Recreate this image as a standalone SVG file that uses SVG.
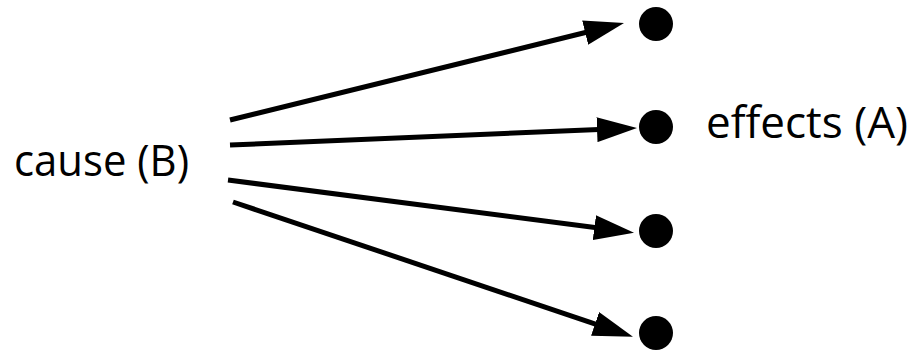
<svg xmlns="http://www.w3.org/2000/svg" width="909" height="351" viewBox="0 0 909 351">
<style>
.lbl{font-family:"Open Sans","Liberation Sans",sans-serif;font-size:44px;fill:#000}
.dot{fill:#000}
.conn{stroke:#000;stroke-width:5;fill:none}
</style>
<defs>
<marker id="ah" markerUnits="userSpaceOnUse" markerWidth="40" markerHeight="25" refX="20" refY="12.5" orient="auto" viewBox="0 0 40 25">
<path d="M0,0 L40,12.5 L0,25 Z" fill="#000"/>
</marker>
</defs>
<rect width="909" height="351" fill="#fff"/>
<g id="cause"><text class="lbl" x="14" y="176" textLength="175" lengthAdjust="spacingAndGlyphs">cause (B)</text></g>
<g id="effect1"><circle class="dot" cx="656" cy="24" r="17"/></g>
<g id="effect2"><circle class="dot" cx="656" cy="127" r="17"/><text class="lbl" x="706" y="138" font-size="43">effects (A)</text></g>
<g id="effect3"><circle class="dot" cx="656" cy="231" r="17"/></g>
<g id="effect4"><circle class="dot" cx="656" cy="333" r="17"/></g>
<g id="connectors">
<path class="conn" d="M230,120 L604.6,27.8" marker-end="url(#ah)"/>
<path class="conn" d="M230,145 L617,128.8" marker-end="url(#ah)"/>
<path class="conn" d="M228,180 L614.2,230.1" marker-end="url(#ah)"/>
<path class="conn" d="M233,202 L614,330.3" marker-end="url(#ah)"/>
</g>
</svg>
